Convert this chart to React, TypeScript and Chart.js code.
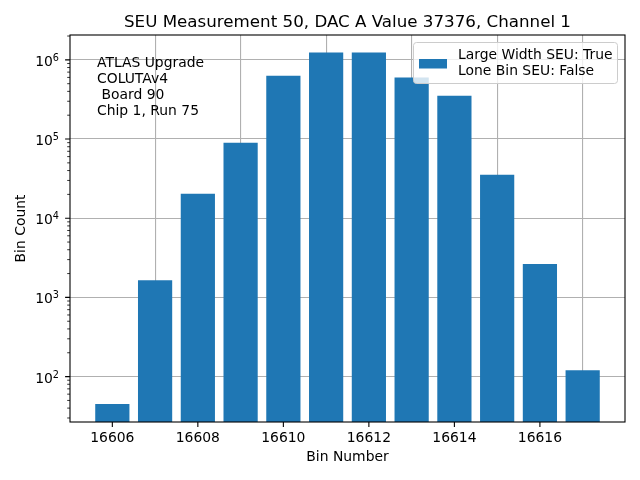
import React, { useEffect, useRef } from 'react';
import { Chart, registerables } from 'chart.js';

Chart.register(...registerables);

const bins = [16606, 16607, 16608, 16609, 16610, 16611, 16612, 16613, 16614, 16615, 16616, 16617];
const counts = [45, 1650, 20300, 90000, 632000, 1236000, 1236000, 597000, 353000, 35300, 2640, 120];
const xTicks = [16606, 16608, 16610, 16612, 16614, 16616];
const yExponents = [2, 3, 4, 5, 6];
const titleText = 'SEU Measurement 50, DAC A Value 37376, Channel 1';
const xLabel = 'Bin Number';
const yLabel = 'Bin Count';
const infoLines = ['ATLAS Upgrade', 'COLUTAv4', ' Board 90', 'Chip 1, Run 75'];
const legendLines = ['Large Width SEU: True', 'Lone Bin SEU: False'];

const FONT = "'DejaVu Sans', sans-serif";
const BLUE = '#1f77b4';

export default function App() {
  const ref = useRef<HTMLCanvasElement | null>(null);

  useEffect(() => {
    if (!ref.current) return;

    const overlay = {
      id: 'mplOverlay',
      afterDraw(chart: any) {
        const ctx = chart.ctx as CanvasRenderingContext2D;
        const area = chart.chartArea;
        const xs = chart.scales.x;
        const ys = chart.scales.y;
        ctx.save();

        // frame
        ctx.strokeStyle = '#000';
        ctx.lineWidth = 1.1;
        ctx.strokeRect(area.left, area.top, area.right - area.left, area.bottom - area.top);

        // x ticks
        ctx.lineWidth = 1.1;
        ctx.beginPath();
        xTicks.forEach((v) => {
          const px = xs.getPixelForValue(v);
          ctx.moveTo(px, area.bottom);
          ctx.lineTo(px, area.bottom + 4.9);
        });
        ctx.stroke();

        // x tick labels
        ctx.fillStyle = '#000';
        ctx.font = `13.9px ${FONT}`;
        ctx.textAlign = 'center';
        ctx.textBaseline = 'alphabetic';
        xTicks.forEach((v) => {
          const px = xs.getPixelForValue(v);
          ctx.fillText(String(v), px, 442);
        });

        // y major ticks & labels
        ctx.beginPath();
        yExponents.forEach((e) => {
          const py = ys.getPixelForValue(Math.pow(10, e));
          ctx.moveTo(area.left - 4.9, py);
          ctx.lineTo(area.left, py);
        });
        ctx.stroke();

        // y minor ticks
        ctx.lineWidth = 0.8;
        ctx.beginPath();
        for (let e = 1; e <= 6; e++) {
          for (let m = 2; m <= 9; m++) {
            const v = m * Math.pow(10, e);
            if (v < ys.min || v > ys.max) continue;
            const py = ys.getPixelForValue(v);
            ctx.moveTo(area.left - 2.8, py);
            ctx.lineTo(area.left, py);
          }
        }
        ctx.stroke();

        yExponents.forEach((e) => {
          const py = ys.getPixelForValue(Math.pow(10, e));
          const right = area.left - 11;
          ctx.textAlign = 'right';
          ctx.font = `9.7px ${FONT}`;
          const ew = ctx.measureText(String(e)).width;
          ctx.fillText(String(e), right, py + 1);
          ctx.font = `13.9px ${FONT}`;
          ctx.fillText('10', right - ew, py + 6);
        });

        // title
        const cx = (area.left + area.right) / 2;
        ctx.textAlign = 'center';
        ctx.font = `16.7px ${FONT}`;
        ctx.fillText(titleText, cx, 27);

        // x label
        ctx.font = `13.9px ${FONT}`;
        ctx.fillText(xLabel, cx, 461);

        // y label
        ctx.save();
        ctx.translate(25, (area.top + area.bottom) / 2);
        ctx.rotate(-Math.PI / 2);
        ctx.textAlign = 'center';
        ctx.fillText(yLabel, 0, 0);
        ctx.restore();

        // info text
        ctx.textAlign = 'left';
        ctx.font = `13.9px ${FONT}`;
        infoLines.forEach((line, i) => {
          ctx.fillText(line, 97, 67 + i * 16);
        });

        // legend
        const lx = 413.5, ly = 42.5, lw = 204, lh = 41, r = 3;
        ctx.beginPath();
        ctx.moveTo(lx + r, ly);
        ctx.lineTo(lx + lw - r, ly);
        ctx.quadraticCurveTo(lx + lw, ly, lx + lw, ly + r);
        ctx.lineTo(lx + lw, ly + lh - r);
        ctx.quadraticCurveTo(lx + lw, ly + lh, lx + lw - r, ly + lh);
        ctx.lineTo(lx + r, ly + lh);
        ctx.quadraticCurveTo(lx, ly + lh, lx, ly + lh - r);
        ctx.lineTo(lx, ly + r);
        ctx.quadraticCurveTo(lx, ly, lx + r, ly);
        ctx.closePath();
        ctx.fillStyle = 'rgba(255,255,255,0.8)';
        ctx.fill();
        ctx.strokeStyle = '#cccccc';
        ctx.lineWidth = 1;
        ctx.stroke();

        ctx.fillStyle = BLUE;
        ctx.fillRect(419, 59, 28, 9.5);

        ctx.fillStyle = '#000';
        ctx.font = `13.9px ${FONT}`;
        ctx.textAlign = 'left';
        legendLines.forEach((line, i) => {
          ctx.fillText(line, 458, 59 + i * 16);
        });

        ctx.restore();
      },
    };

    const chart = new Chart(ref.current, {
      type: 'bar',
      data: {
        datasets: [
          {
            label: legendLines.join('\n'),
            data: bins.map((b, i) => ({ x: b, y: counts[i] })),
            backgroundColor: BLUE,
            borderWidth: 0,
            barPercentage: 0.8,
            categoryPercentage: 1,
          },
        ],
      },
      options: {
        responsive: false,
        animation: false,
        devicePixelRatio: 1,
        layout: { padding: { top: 35, right: 15, left: 0, bottom: 0 } },
        plugins: {
          legend: { display: false },
          title: { display: false },
          tooltip: { enabled: false },
        },
        scales: {
          x: {
            type: 'linear',
            min: 16605.01,
            max: 16617.99,
            offset: false,
            z: 1,
            afterBuildTicks: (s: any) => {
              s.ticks = xTicks.map((v) => ({ value: v }));
            },
            afterFit: (s: any) => {
              s.height = 58;
            },
            grid: { color: '#b0b0b0', lineWidth: 1.1, drawTicks: false },
            border: { display: false },
            ticks: { display: false },
          },
          y: {
            type: 'logarithmic',
            min: 26.7,
            max: 2.06e6,
            z: 1,
            afterBuildTicks: (s: any) => {
              s.ticks = yExponents.map((e) => ({ value: Math.pow(10, e) }));
            },
            afterFit: (s: any) => {
              s.width = 70;
            },
            grid: { color: '#b0b0b0', lineWidth: 1.1, drawTicks: false },
            border: { display: false },
            ticks: { display: false },
          },
        },
      },
      plugins: [overlay],
    } as any);

    return () => {
      chart.destroy();
    };
  }, []);

  return (
    <div style={{ position: 'fixed', left: 0, top: 0, width: 640, height: 480, background: '#fff' }}>
      <canvas ref={ref} width={640} height={480} style={{ width: 640, height: 480 }} />
    </div>
  );
}
